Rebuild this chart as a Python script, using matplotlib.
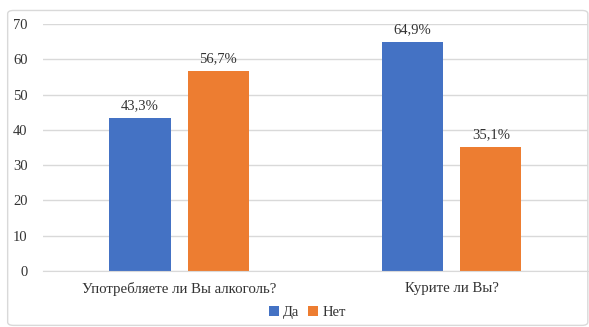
import matplotlib.pyplot as plt
import numpy as np
from matplotlib.patches import FancyBboxPatch

# Данные
categories = ['Употребляете ли Вы алкоголь?', 'Курите ли Вы?']
series_names = ['Да', 'Нет']
da = [43.3, 64.9]
net = [56.7, 35.1]
yticks = [0, 10, 20, 30, 40, 50, 60, 70]

plt.rcParams['font.family'] = ['Liberation Serif', 'DejaVu Serif']
text_color = '#333333'

fig = plt.figure(figsize=(5.89, 3.27), dpi=100)
# Рамка вокруг диаграммы
border = FancyBboxPatch((0.013, 0.005), 0.985, 0.963,
                        boxstyle='round,pad=0,rounding_size=0.01',
                        transform=fig.transFigure, facecolor='none',
                        edgecolor='#D9D9D9', linewidth=1, zorder=-1)
fig.patches.append(border)

ax = fig.add_axes([0.073, 0.171, 0.925, 0.756])
x = np.arange(len(categories))
w = 0.225
off = 0.144
b1 = ax.bar(x - off, da, w, color='#4472C4', label=series_names[0])
b2 = ax.bar(x + off, net, w, color='#ED7D31', label=series_names[1])

for bars in (b1, b2):
    for b in bars:
        ax.annotate(f'{b.get_height():.1f}%'.replace('.', ','),
                    (b.get_x() + b.get_width() / 2, b.get_height()),
                    xytext=(0, 4), textcoords='offset points',
                    ha='center', va='bottom', fontsize=10.5, color=text_color)

ax.set_xlim(-0.5, 1.5)
ax.set_ylim(0, 70)
ax.set_yticks(yticks)
ax.set_xticks(x)
ax.set_xticklabels(categories, fontsize=10.7, color=text_color)
ax.tick_params(axis='y', labelsize=10.5, colors=text_color, length=0, pad=11)
ax.tick_params(axis='x', length=0, pad=8)
ax.grid(axis='y', color='#D9D9D9', linewidth=1)
ax.set_axisbelow(True)
for s in ['top', 'right', 'left']:
    ax.spines[s].set_visible(False)
ax.spines['bottom'].set_color('#D9D9D9')
ax.set_facecolor('none')

fig.legend(loc='center', bbox_to_anchor=(0.522, 0.045), ncol=2, frameon=False,
           fontsize=10.5, handlelength=0.7, handleheight=0.7, handletextpad=0.3,
           columnspacing=0.6, labelcolor=text_color)

fig.savefig('out.png', dpi=100)
